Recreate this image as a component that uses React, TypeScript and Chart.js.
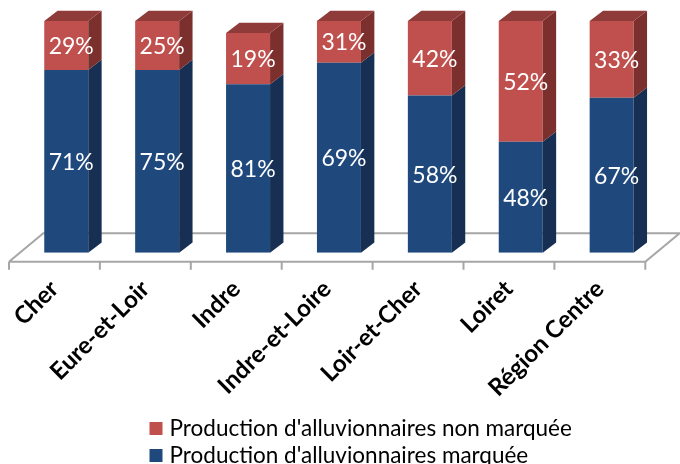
import React, { useEffect, useRef } from "react";
import { Chart, registerables } from "chart.js";

Chart.register(...registerables);

// Categories
const categories = ["Cher", "Eure-et-Loir", "Indre", "Indre-et-Loire", "Loir-et-Cher", "Loiret", "Région Centre"];
// Bar segment heights (scale 0–100 of the plot height)
const marqueeValues = [78.9, 78.9, 72.7, 82.0, 67.8, 47.9, 66.9];
const nonMarqueeValues = [21.1, 21.1, 22.1, 18.0, 32.2, 52.1, 33.1];
// Data labels printed on the bars
const marqueeLabels = ["71%", "75%", "81%", "69%", "58%", "48%", "67%"];
const nonMarqueeLabels = ["29%", "25%", "19%", "31%", "42%", "52%", "33%"];
const seriesNames = ["Production d'alluvionnaires marquée", "Production d'alluvionnaires non marquée"];

const FONT = 'Lato, "Noto Sans", sans-serif';
const frontColors = ["#1F497D", "#C0504D"];
const sideColors = ["#162F52", "#7C302E"];
const topColors = ["#1A3C66", "#8E3B39"];
const DX = 13.4;
const DY = -10.3;
const SHIFT = -11.8;

const floorPlugin = {
  id: "floor3d",
  beforeDatasetsDraw(chart: any) {
    const { ctx, chartArea } = chart;
    const { left, right, bottom } = chartArea;
    const n = categories.length;
    const step = (right - left) / n;
    const fy = bottom + 9;
    const by = fy - 28.4;
    const fl = left + SHIFT;
    const fr = right + SHIFT;
    ctx.save();
    ctx.strokeStyle = "#A6A6A6";
    ctx.lineWidth = 2;
    ctx.beginPath();
    ctx.moveTo(fl, fy);
    ctx.lineTo(fr, fy);
    ctx.lineTo(fr + 34.3, by);
    ctx.lineTo(fl + 34.3, by);
    ctx.lineTo(fl, fy);
    ctx.stroke();
    ctx.beginPath();
    for (let k = 0; k <= n; k++) {
      const x = fl + k * step;
      ctx.moveTo(x, fy);
      ctx.lineTo(x, fy + 8);
    }
    ctx.stroke();
    ctx.restore();
  },
};

const bars3dPlugin = {
  id: "bars3d",
  afterDatasetsDraw(chart: any) {
    const ctx = chart.ctx;
    const metas = chart.getSortedVisibleDatasetMetas();
    ctx.save();
    metas.forEach((meta: any, di: number) => {
      meta.data.forEach((bar: any) => {
        const { x, y, base, width } = bar.getProps(["x", "y", "base", "width"], true);
        const l = x - width / 2;
        const r = x + width / 2;
        ctx.fillStyle = sideColors[di];
        ctx.beginPath();
        ctx.moveTo(r, y);
        ctx.lineTo(r + DX, y + DY);
        ctx.lineTo(r + DX, base + DY);
        ctx.lineTo(r, base);
        ctx.closePath();
        ctx.fill();
        if (di === metas.length - 1) {
          ctx.fillStyle = topColors[di];
          ctx.beginPath();
          ctx.moveTo(l, y);
          ctx.lineTo(r, y);
          ctx.lineTo(r + DX, y + DY);
          ctx.lineTo(l + DX, y + DY);
          ctx.closePath();
          ctx.fill();
        }
      });
    });
    // data labels
    ctx.fillStyle = "#FFFFFF";
    ctx.font = `23px ${FONT}`;
    ctx.textAlign = "center";
    ctx.textBaseline = "middle";
    metas.forEach((meta: any, di: number) => {
      const labels = di === 0 ? marqueeLabels : nonMarqueeLabels;
      meta.data.forEach((bar: any, i: number) => {
        const { x, y, base } = bar.getProps(["x", "y", "base"], true);
        ctx.fillText(labels[i], x + 5, (y + base) / 2 + 1);
      });
    });
    ctx.restore();
  },
};

const legendPlugin = {
  id: "legendLeft",
  afterDraw(chart: any) {
    const ctx = chart.ctx;
    const ds = chart.data.datasets;
    const order = [1, 0];
    ctx.save();
    ctx.font = `22.5px ${FONT}`;
    ctx.textAlign = "left";
    ctx.textBaseline = "middle";
    order.forEach((di, row) => {
      const cy = 428.5 + row * 27;
      ctx.fillStyle = ds[di].backgroundColor;
      ctx.fillRect(149.5, cy - 6.5, 13, 13);
      ctx.fillStyle = "#000000";
      ctx.fillText(ds[di].label, 169.5, cy);
    });
    ctx.restore();
  },
};

export default function App() {
  const ref = useRef<HTMLCanvasElement>(null);
  useEffect(() => {
    if (!ref.current) return;
    const chart = new Chart(ref.current, {
      type: "bar",
      data: {
        labels: categories,
        datasets: [
          { label: seriesNames[0], data: marqueeValues, backgroundColor: frontColors[0], borderWidth: 0 },
          { label: seriesNames[1], data: nonMarqueeValues, backgroundColor: frontColors[1], borderWidth: 0 },
        ],
      },
      options: {
        animation: false,
        responsive: false,
        devicePixelRatio: 1,
        layout: { padding: { left: 20.8, right: 22.9, top: 21, bottom: 60 } },
        datasets: { bar: { barPercentage: 1, categoryPercentage: 0.484 } },
        plugins: { legend: { display: false }, tooltip: { enabled: false } },
        scales: {
          x: {
            stacked: true,
            grid: { display: false, drawTicks: false },
            border: { display: false },
            ticks: {
              color: "#000000",
              font: { family: FONT, size: 24, weight: "bold" },
              minRotation: 45,
              maxRotation: 45,
              labelOffset: -11.8,
              padding: 22,
              autoSkip: false,
            },
            afterFit: (s: any) => {
              s.height = 151.3;
            },
          },
          y: { stacked: true, min: 0, max: 100, display: false },
        },
      },
      plugins: [floorPlugin, bars3dPlugin, legendPlugin],
    });
    return () => chart.destroy();
  }, []);
  return (
    <div style={{ position: "fixed", left: 0, top: 0, width: 680, height: 464, background: "#fff" }}>
      <canvas ref={ref} width={680} height={464} style={{ width: 680, height: 464, display: "block" }} />
    </div>
  );
}
